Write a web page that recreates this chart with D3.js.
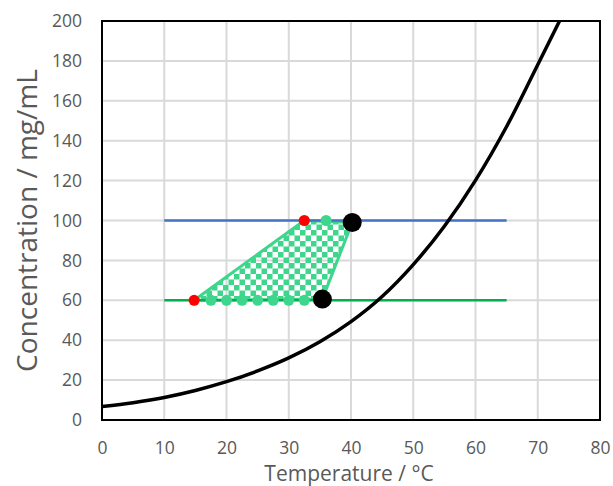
<!DOCTYPE html>
<html>
<head>
<meta charset="utf-8">
<script src="https://cdn.jsdelivr.net/npm/d3@7"></script>
<style>
  body { margin: 0; background: #fff; }
  text { font-family: "Open Sans", "Noto Sans", sans-serif; fill: #595959; }
</style>
</head>
<body>
<svg id="chart" width="613" height="486"></svg>
<script>
// solubility curve
const curveT = [0, 5, 10, 15, 20, 25, 30, 35, 40, 45, 50, 55, 60, 65, 70, 73.5];
const curveC = [6.7, 8.7, 11.3, 14.8, 19.2, 24.6, 31.1, 39.2, 49.3, 61.9, 77.9, 97.1, 120.1, 147.1, 178.1, 200];

// horizontal operating lines
const lineT = [10, 65];
const blueC = 100;
const greenC = 60;

// region corners
const regionT = [14.8, 32.5, 40.2, 35.4];
const regionC = [60, 100, 99, 60.6];

const redT = [14.8, 32.5];
const redC = [60, 100];
const blackT = [40.2, 35.4];
const blackC = [99, 60.6];
const dotT = [17.5, 20, 22.5, 25, 27.5, 30, 32.5, 36];
const dotC = [60, 60, 60, 60, 60, 60, 60, 100];

const xTicks = [0, 10, 20, 30, 40, 50, 60, 70, 80];
const yTicks = [0, 20, 40, 60, 80, 100, 120, 140, 160, 180, 200];

const margin = {left: 102, top: 21, right: 13, bottom: 66};
const W = 613 - margin.left - margin.right;
const H = 486 - margin.top - margin.bottom;

const svg = d3.select("#chart");
const x = d3.scaleLinear().domain([0, 80]).range([0, W]);
const y = d3.scaleLinear().domain([0, 200]).range([H, 0]);

const defs = svg.append("defs");
const pat = defs.append("pattern").attr("id", "checker")
    .attr("patternUnits", "userSpaceOnUse").attr("width", 11).attr("height", 11);
pat.append("rect").attr("width", 5.5).attr("height", 5.5).attr("fill", "#3dd68c");
pat.append("rect").attr("x", 5.5).attr("y", 5.5).attr("width", 5.5).attr("height", 5.5).attr("fill", "#3dd68c");
defs.append("clipPath").attr("id", "clip").append("rect").attr("width", W).attr("height", H);

const g = svg.append("g").attr("transform", `translate(${margin.left},${margin.top})`);

// grid
g.append("g").selectAll("line").data(xTicks.slice(1, -1)).join("line")
    .attr("x1", d => x(d)).attr("x2", d => x(d)).attr("y1", 0).attr("y2", H)
    .attr("stroke", "#d9d9d9").attr("stroke-width", 2);
g.append("g").selectAll("line").data(yTicks.slice(1, -1)).join("line")
    .attr("y1", d => y(d)).attr("y2", d => y(d)).attr("x1", 0).attr("x2", W)
    .attr("stroke", "#d9d9d9").attr("stroke-width", 2);

// axes (labels only)
const xAxis = g.append("g").attr("transform", `translate(0,${H})`)
    .call(d3.axisBottom(x).tickValues(xTicks).tickSize(0).tickPadding(22));
const yAxis = g.append("g")
    .call(d3.axisLeft(y).tickValues(yTicks).tickSize(0).tickPadding(20));
[xAxis, yAxis].forEach(a => {
  a.select(".domain").remove();
  a.selectAll("text").style("font-size", "17.5px").attr("fill", "#595959")
    .style("font-family", "'Open Sans', sans-serif");
});

// region
const pts = regionT.map((t, i) => [x(t), y(regionC[i])]);
g.append("polygon").attr("points", pts.map(p => p.join(",")).join(" "))
    .attr("fill", "url(#checker)").attr("stroke", "#3dd68c").attr("stroke-width", 3)
    .attr("stroke-linejoin", "round");

// lines
g.append("line").attr("x1", x(lineT[0])).attr("x2", x(lineT[1]))
    .attr("y1", y(blueC)).attr("y2", y(blueC)).attr("stroke", "#4472c4").attr("stroke-width", 2.5);
g.append("line").attr("x1", x(lineT[0])).attr("x2", x(lineT[1]))
    .attr("y1", y(greenC)).attr("y2", y(greenC)).attr("stroke", "#00b050").attr("stroke-width", 2.5);

// solubility curve
const line = d3.line().x(d => x(d[0])).y(d => y(d[1])).curve(d3.curveMonotoneX);
g.append("path").datum(curveT.map((t, i) => [t, curveC[i]]))
    .attr("d", line).attr("fill", "none").attr("stroke", "#000").attr("stroke-width", 3.5)
    .attr("clip-path", "url(#clip)");

// dots
g.append("g").selectAll("circle").data(dotT).join("circle")
    .attr("cx", d => x(d)).attr("cy", (d, i) => y(dotC[i])).attr("r", 5.5).attr("fill", "#3dd68c");
g.append("g").selectAll("circle").data(redT).join("circle")
    .attr("cx", d => x(d)).attr("cy", (d, i) => y(redC[i])).attr("r", 5.5).attr("fill", "#ff0000");
g.append("g").selectAll("circle").data(blackT).join("circle")
    .attr("cx", d => x(d)).attr("cy", (d, i) => y(blackC[i])).attr("r", 9.5).attr("fill", "#000");

// frame
g.append("rect").attr("width", W).attr("height", H)
    .attr("fill", "none").attr("stroke", "#000").attr("stroke-width", 2);

// titles
svg.append("text").attr("transform", `translate(37,${margin.top + H / 2}) rotate(-90)`)
    .attr("text-anchor", "middle").style("font-size", "28px")
    .text("Concentration  / mg/mL");
svg.append("text").attr("x", margin.left + W / 2 - 2).attr("y", 481)
    .attr("text-anchor", "middle").style("font-size", "21px")
    .text("Temperature / °C");
</script>
</body>
</html>
